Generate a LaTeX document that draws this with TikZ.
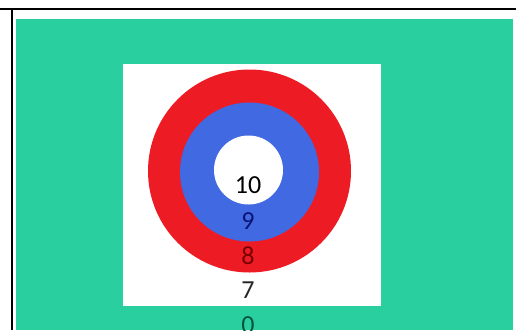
\documentclass[tikz,border=0pt]{standalone}
\usepackage{fontspec}
\setmainfont{Carlito}
\usepackage{tikz}
\usetikzlibrary{positioning}
\definecolor{tgtgreen}{RGB}{42,207,160}
\definecolor{tgtred}{RGB}{237,28,36}
\definecolor{tgtblue}{RGB}{65,105,225}
\definecolor{tgtnavy}{RGB}{10,20,120}
\definecolor{tgtmaroon}{RGB}{120,0,0}
\definecolor{tgtdkgreen}{RGB}{0,85,60}
\tikzset{
  ring/.style={
    circle,
    inner sep=0pt
  },
  score/.style={
    font=\fontsize{26}{28}\selectfont,
    inner sep=0pt,
    anchor=center
  },
  frameLine/.style={
    line width=2.4pt,
    draw=black
  }
}

\begin{document}
\begin{tikzpicture}[x=1pt, y=-1pt]
  \useasboundingbox (0,0) rectangle (516,330);
  \fill[tgtgreen] (16,19) rectangle (513,330);
  \fill[white] (123,64) rectangle (381,306);

  \node[ring, fill=tgtred, minimum size=203pt] (outer) at (249.5,171) {};
  \node[ring, fill=tgtblue, minimum size=139pt] (middle) at (249.5,172) {};
  \node[ring, fill=white, minimum size=69pt] (inner) at (248.5,170) {};

  \node[score, text=black] (s10) at (248,185) {10};
  \node[score, text=tgtnavy] (s9) at (248,221) {9};
  \node[score, text=tgtmaroon] (s8) at (248,256) {8};
  \node[score, text=black!85] (s7) at (248,290) {7};
  \node[score, text=tgtdkgreen] (s0) at (248,325) {0};

  \coordinate (topL) at (0,9);
  \coordinate (topR) at (516,9);
  \coordinate (sideT) at (12,8);
  \coordinate (sideB) at (12,330);
  \draw[frameLine] (topL) -- (topR);
  \draw[frameLine] (sideT) -- (sideB);
\end{tikzpicture}
\end{document}
